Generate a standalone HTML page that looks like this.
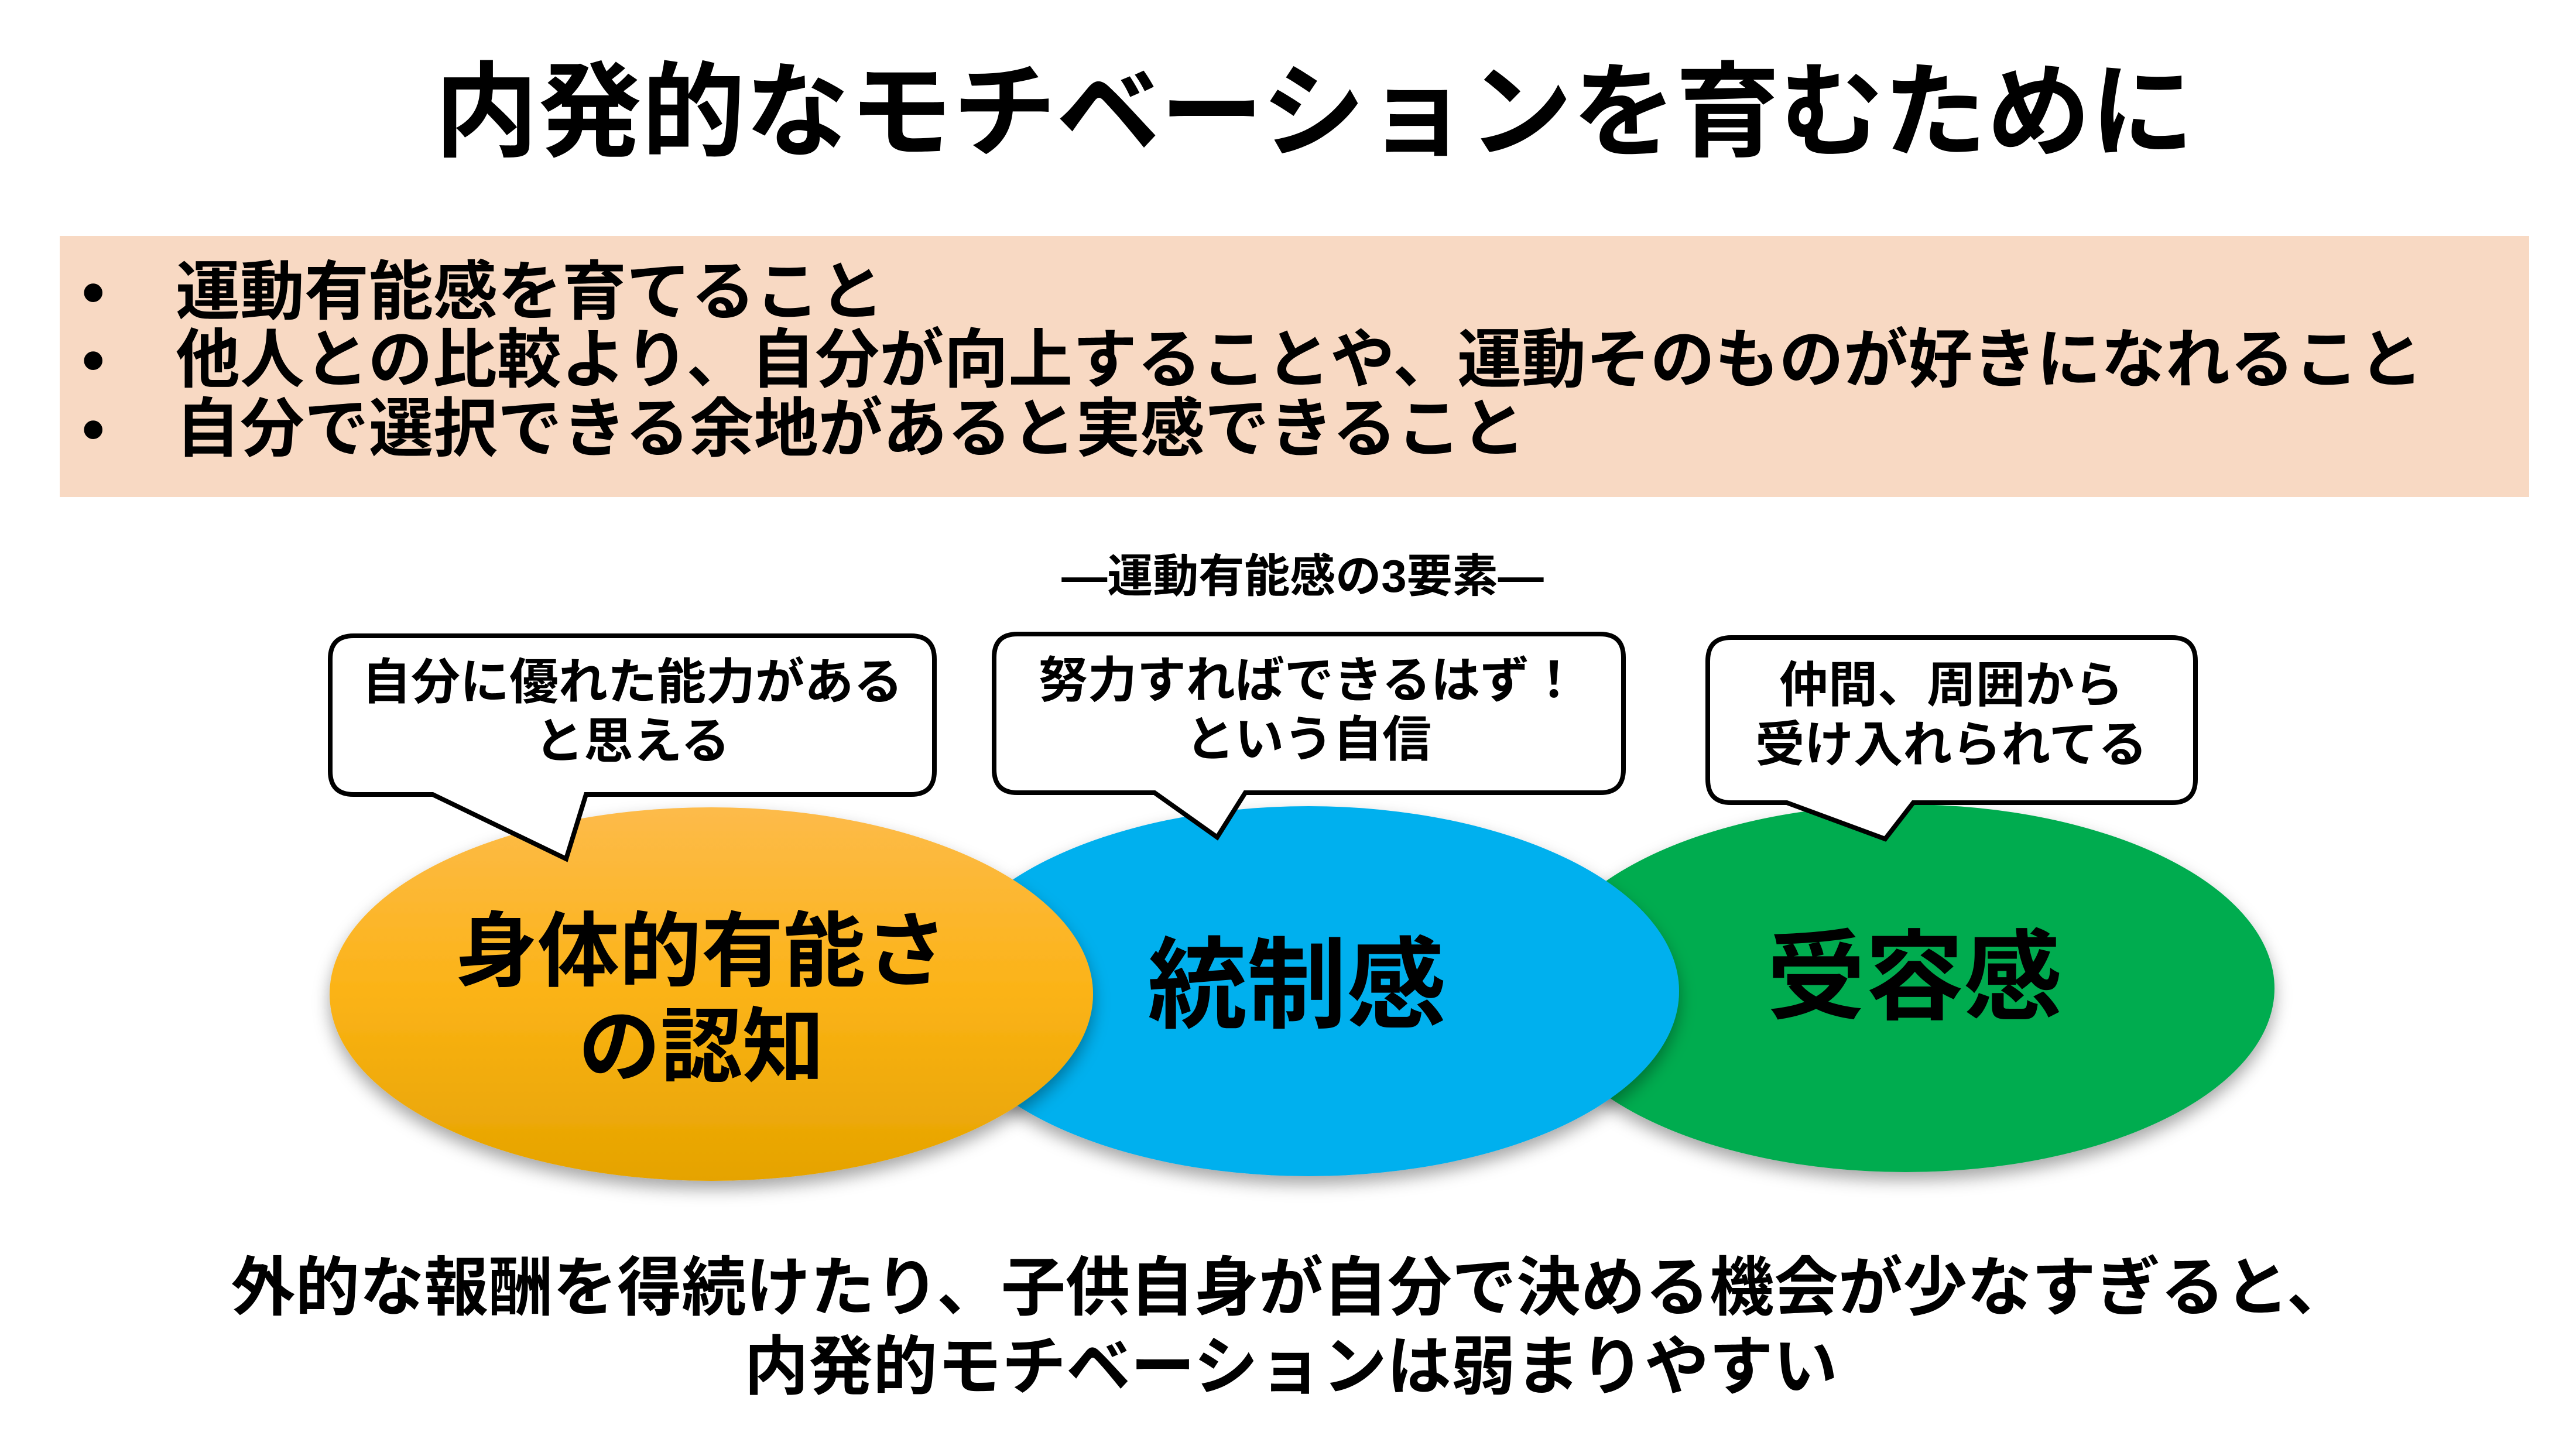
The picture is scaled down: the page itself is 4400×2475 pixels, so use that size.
<!DOCTYPE html>
<html><head><meta charset="utf-8"><style>
html,body{margin:0;padding:0;background:#fff}
svg{display:block}
text{font-family:"Liberation Sans","Noto Sans CJK JP",sans-serif;font-weight:bold;fill:#000}
</style></head><body>
<svg width="4400" height="2475" viewBox="0 0 4400 2475" xmlns="http://www.w3.org/2000/svg">
<defs>
<filter id="sh" x="-20%" y="-20%" width="140%" height="150%">
<feDropShadow dx="0" dy="14" stdDeviation="14" flood-color="#000" flood-opacity="0.35"/>
</filter>
<linearGradient id="og" x1="0" y1="0" x2="0" y2="1">
<stop offset="0" stop-color="#FDBB4A"/><stop offset="0.5" stop-color="#FBB316"/><stop offset="1" stop-color="#E5A300"/>
</linearGradient>
</defs>
<text x="2245" y="192" font-size="177" text-anchor="middle" dominant-baseline="central">内発的なモチベーションを育むために</text>
<rect x="102" y="403" width="4218" height="446" fill="#F8D9C3"/>
<g font-size="110" dominant-baseline="central">
<text x="140" y="499">•</text><text x="300" y="499">運動有能感を育てること</text>
<text x="140" y="615">•</text><text x="300" y="615">他人との比較より、自分が向上することや、運動そのものが好きになれること</text>
<text x="140" y="733">•</text><text x="300" y="733">自分で選択できる余地があると実感できること</text>
</g>
<text x="2225" y="984" font-size="78" text-anchor="middle" dominant-baseline="central">—運動有能感の3要素—</text>
<ellipse cx="3255" cy="1688" rx="630" ry="314" fill="#00AC4F" filter="url(#sh)"/>
<ellipse cx="2235" cy="1693" rx="633" ry="316" fill="#00B0EE" filter="url(#sh)"/>
<ellipse cx="1215" cy="1698" rx="652" ry="319" fill="url(#og)" filter="url(#sh)"/>
<text x="1198" y="1625" font-size="140" text-anchor="middle" dominant-baseline="central">身体的有能さ</text>
<text x="1198" y="1788" font-size="140" text-anchor="middle" dominant-baseline="central">の認知</text>
<text x="2215" y="1684" font-size="170" text-anchor="middle" dominant-baseline="central">統制感</text>
<text x="3270" y="1670" font-size="168" text-anchor="middle" dominant-baseline="central">受容感</text>
<g fill="#fff" stroke="#000" stroke-width="8" stroke-linejoin="miter">
<path d="M604,1086 H1556 Q1596,1086 1596,1126 V1317 Q1596,1357 1556,1357 H1001 L967,1467 L739,1357 H604 Q564,1357 564,1317 V1126 Q564,1086 604,1086 Z"/>
<path d="M1738,1083 H2733 Q2773,1083 2773,1123 V1314 Q2773,1354 2733,1354 H2127 L2079,1430 L1972,1354 H1738 Q1698,1354 1698,1314 V1123 Q1698,1083 1738,1083 Z"/>
<path d="M2957,1089 H3710 Q3750,1089 3750,1129 V1331 Q3750,1371 3710,1371 H3268 L3220,1433 L3052,1371 H2957 Q2917,1371 2917,1331 V1129 Q2917,1089 2957,1089 Z"/>
</g>
<g font-size="84" text-anchor="middle" dominant-baseline="central">
<text x="1080" y="1165">自分に優れた能力がある</text>
<text x="1080" y="1266">と思える</text>
<text x="2235" y="1162">努力すればできるはず！</text>
<text x="2235" y="1263">という自信</text>
<text x="3333" y="1170">仲間、周囲から</text>
<text x="3333" y="1272">受け入れられてる</text>
</g>
<text x="2205" y="2200" font-size="110" text-anchor="middle" dominant-baseline="central">外的な報酬を得続けたり、子供自身が自分で決める機会が少なすぎると、</text>
<text x="2205" y="2335" font-size="110" text-anchor="middle" dominant-baseline="central">内発的モチベーションは弱まりやすい</text>
</svg>
</body></html>
